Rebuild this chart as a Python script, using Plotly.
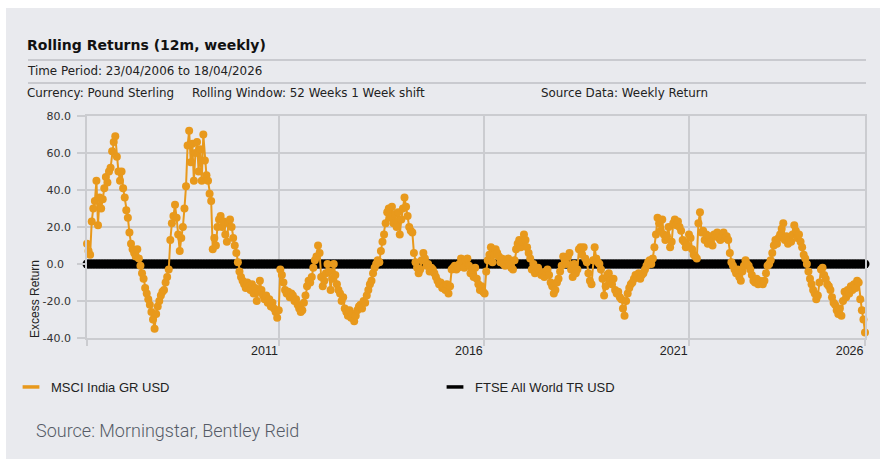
import plotly.graph_objects as go
import pandas as pd

# ---------------- data ----------------
start_date = "2007-04-22"
end_date = "2026-04-18"

# 12m rolling excess return of MSCI India GR USD vs FTSE All World TR USD (fortnightly readings)
msci_india_excess = [
    11, 7, 5, 23, 30, 34, 45, 21, 36, 30, 35, 41, 47, 44, 50, 52, 61, 66, 69, 58,
    50, 45, 50, 41, 36, 29, 25, 17, 11, 8, 6, 4, 8, 3, -1, -5, -8, -13, -16, -19,
    -22, -26, -30, -35, -27, -23, -20, -17, -15, -14, -10, -7, -3, 13, 22, 26, 32, 25, 16, 7,
    14, 20, 30, 42, 64, 72, 55, 65, 45, 60, 66, 50, 62, 45, 70, 56, 48, 45, 38, 34,
    8, 14, 10, 20, 24, 26, 20, 23, 16, 12, 22, 24, 20, 14, 10, 6, 1, -4, -7, -9,
    -11, -13, -10, -12, -14, -11, -16, -13, -20, -15, -9, -14, -17, -19, -17, -21, -19, -23, -21, -24,
    -26, -29, -25, -3, -6, -10, -14, -16, -15, -18, -16, -17, -20, -19, -22, -24, -26, -25, -21, -17,
    -12, -9, -10, -7, -2, 2, 4, 10, 6, -7, -12, -9, -5, 0, -4, -14, -8, 0, -6, -11,
    -14, -16, -20, -18, -24, -26, -28, -25, -29, -27, -31, -28, -25, -23, -22, -24, -20, -21, -17, -14,
    -11, -9, -5, -2, 0, 2, 1, 7, 12, 16, 22, 28, 30, 25, 31, 22, 27, 20, 28, 16,
    24, 30, 36, 31, 26, 20, 18, 17, 6, 1, -2, -5, -3, 2, 6, 3, -1, 0, -4, -2,
    -3, -5, -7, -9, -11, -10, -13, -12, -14, -11, -16, -12, -3, -2, -1, -3, -2, 0, 3, 1,
    -2, 2, 3, -1, -5, -3, -7, -2, -8, -11, -14, -12, -15, -16, -4, 2, 5, 9, 1, 5,
    8, 6, 4, 1, 3, 0, -1, 2, 3, 0, -2, -3, 2, 8, 11, 13, 9, 12, 16, 13,
    9, 6, 3, -3, 0, -5, -4, -2, -4, -6, -5, -7, -4, -3, -6, -10, -12, -16, -14, -10,
    -8, -4, -1, 4, 2, 0, 4, 6, -3, -7, 0, -5, -3, 8, 9, 5, 9, 3, 1, -5,
    -9, -11, 2, 9, 3, 1, 0, -3, -8, -17, -12, -6, -5, -9, -11, -8, -14, -16, -15, -18,
    -19, -24, -28, -20, -16, -13, -11, -10, -8, -6, -7, -5, -8, -6, -5, -3, -1, 1, 2, 0,
    3, 9, 16, 25, 22, 18, 24, 16, 13, 15, 20, 9, 12, 22, 24, 21, 23, 20, 18, 13,
    12, 9, 10, 16, 14, 8, 5, 4, 3, 22, 28, 17, 18, 13, 16, 11, 15, 12, 10, 16,
    15, 17, 14, 13, 15, 17, 14, 15, 13, 6, 1, -1, -3, -5, -3, -7, -9, -4, -1, 2,
    0, -1, -3, -6, -9, -10, -8, -11, -9, -10, -11, -9, -5, -1, 0, 2, 6, 10, 13, 11,
    14, 16, 19, 22, 13, 15, 11, 13, 12, 16, 21, 18, 14, 16, 12, 9, 5, 3, 0, -4,
    -8, -11, -14, -16, -19, -17, -10, -3, -2, -6, -8, -11, -12, -14, -18, -21, -22, -25, -27, -24,
    -28, -20, -15, -18, -14, -16, -12, -14, -11, -13, -9, -10, -19, -25, -30, -37,
]
n_points = len(msci_india_excess)
dates = pd.date_range(start_date, end_date, periods=n_points)
# the benchmark measured against itself: zero excess return throughout
ftse_all_world_excess = [0.0] * n_points

series_names = ["MSCI India GR USD", "FTSE All World TR USD"]
y_tick_vals = [-40, -20, 0, 20, 40, 60, 80]
y_tick_text = ["-40.0", "-20.0", "0.0\u2007", "20.0", "40.0", "60.0", "80.0"]
x_tick_vals = [start_date, "2012-01-01", "2017-01-01", "2022-01-01", end_date]
x_tick_text = ["", "2011", "2016", "2021", "2026"]

# ---------------- styling ----------------
W, H = 880, 459
L, R, T, B = 87, 865, 116, 338
ORANGE = "#E8991C"
BG = "#E9EAEE"
GRID = "#CBCCD0"
NARROW = "Liberation Sans Narrow, Arial Narrow, Liberation Sans, Arial, sans-serif"
VERD = "Verdana, DejaVu Sans, sans-serif"


def px(xp):
    return (xp - L) / (R - L)


def py(yp):
    return (B - yp) / (B - T)


fig = go.Figure()

fig.add_trace(go.Scatter(
    x=dates, y=ftse_all_world_excess, mode="lines+markers",
    line=dict(color="black", width=2),
    marker=dict(color="black", size=9),
    cliponaxis=False, showlegend=False, hoverinfo="skip",
))
fig.add_trace(go.Scatter(
    x=dates, y=msci_india_excess, mode="lines+markers",
    line=dict(color=ORANGE, width=2),
    marker=dict(color=ORANGE, size=8),
    cliponaxis=False, showlegend=False,
))

# legend entries (short dash symbols)
fig.add_trace(go.Scatter(
    x=[None], y=[None], mode="markers", name=series_names[0],
    marker=dict(symbol="line-ew", size=12, line=dict(color=ORANGE, width=3.5)),
    legend="legend",
))
fig.add_trace(go.Scatter(
    x=[None], y=[None], mode="markers", name=series_names[1],
    marker=dict(symbol="line-ew", size=12, line=dict(color="black", width=3.5)),
    legend="legend2",
))

shapes = [
    dict(type="rect", xref="paper", yref="paper", x0=px(6), x1=px(W), y0=py(H), y1=py(8),
         fillcolor=BG, line=dict(width=0), layer="below"),
    dict(type="line", xref="paper", yref="paper", x0=px(28), x1=px(866), y0=py(60), y1=py(60),
         line=dict(color="#C9CACF", width=2)),
    dict(type="line", xref="paper", yref="paper", x0=px(28), x1=px(866), y0=py(83), y1=py(83),
         line=dict(color="#C9CACF", width=2)),
]

hdr = dict(family=VERD, size=11.9, color="#222")
annotations = [
    dict(text="<b>Rolling Returns (12m, weekly)</b>", x=px(25), y=py(45), xref="paper", yref="paper",
         xanchor="left", yanchor="middle", showarrow=False, font=dict(family=VERD, size=14, color="#111")),
    dict(text="Time Period: 23/04/2006 to 18/04/2026", x=px(25), y=py(71), xref="paper", yref="paper",
         xanchor="left", yanchor="middle", showarrow=False, font=hdr),
    dict(text="Currency: Pound Sterling", x=px(25), y=py(93), xref="paper", yref="paper",
         xanchor="left", yanchor="middle", showarrow=False, font=hdr),
    dict(text="Rolling Window: 52 Weeks 1 Week shift", x=px(190), y=py(93), xref="paper", yref="paper",
         xanchor="left", yanchor="middle", showarrow=False, font=hdr),
    dict(text="Source Data: Weekly Return", x=px(539), y=py(93), xref="paper", yref="paper",
         xanchor="left", yanchor="middle", showarrow=False, font=hdr),
    dict(text="Excess Return", x=px(35), y=py(299), xref="paper", yref="paper", textangle=-90,
         xanchor="center", yanchor="middle", showarrow=False, font=dict(family=NARROW, size=12, color="#222")),
    dict(text="Source: Morningstar, Bentley Reid", x=px(34), y=py(430), xref="paper", yref="paper",
         xanchor="left", yanchor="middle", showarrow=False,
         font=dict(family="Roboto, sans-serif", size=18, color="#555B66", weight=300)),
]

legend_font = dict(family=NARROW, size=13, color="#222")
fig.update_layout(
    width=W, height=H,
    margin=dict(l=L, r=W - R, t=T, b=H - B, pad=0, autoexpand=False),
    paper_bgcolor="white", plot_bgcolor="rgba(0,0,0,0)",
    shapes=shapes, annotations=annotations,
    legend=dict(x=px(11), y=py(387), xanchor="left", yanchor="middle", orientation="h",
                bgcolor="rgba(0,0,0,0)", font=legend_font, itemwidth=30),
    legend2=dict(x=px(435), y=py(387), xanchor="left", yanchor="middle", orientation="h",
                 bgcolor="rgba(0,0,0,0)", font=legend_font, itemwidth=30),
    xaxis=dict(
        type="date", range=[start_date, end_date],
        tickmode="array", tickvals=x_tick_vals, ticktext=x_tick_text,
        ticklabelposition="outside left",
        showgrid=True, gridcolor=GRID, gridwidth=1.5,
        showline=True, linecolor=GRID, linewidth=1.5, mirror=True,
        ticks="outside", ticklen=6, tickcolor=GRID, tickwidth=1.5,
        zeroline=False, automargin=False,
        tickfont=dict(family=NARROW, size=12.5, color="#222"),
    ),
    yaxis=dict(
        range=[-40, 80], tickmode="array", tickvals=y_tick_vals, ticktext=y_tick_text,
        showgrid=True, gridcolor=GRID, gridwidth=1.5,
        showline=True, linecolor=GRID, linewidth=1.5, mirror=True,
        ticks="outside", ticklen=8, tickcolor=GRID, tickwidth=1.5,
        ticklabelstandoff=4,
        zeroline=False, automargin=False,
        tickfont=dict(family=VERD, size=11, color="#333"),
    ),
)

fig.write_html(
    "out.html",
    config={"displayModeBar": False},
    post_script="document.body.style.margin='0px';document.body.style.padding='0px';"
                "document.body.style.overflow='hidden';",
)
